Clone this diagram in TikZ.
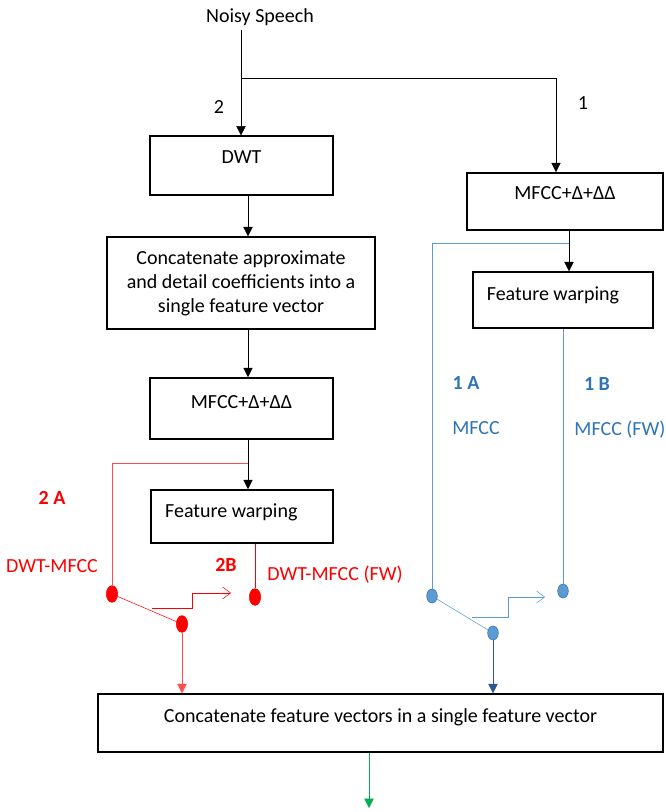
\documentclass[tikz,border=0pt]{standalone}
\usepackage{fontspec}
\setmainfont{Carlito}
\usetikzlibrary{positioning,shapes,arrows.meta,calc}
\definecolor{Red}{rgb}{1,0,0}
\definecolor{Blue}{HTML}{2E75B6}
\definecolor{lineblue}{HTML}{5B9BD5}
\definecolor{dotedge}{HTML}{41719C}
\definecolor{darkblue}{HTML}{2F5597}
\definecolor{Green}{HTML}{00B050}
\tikzstyle{blk}=[%
      rectangle, draw=black, line width=1.1pt, fill=none,
      align=center, inner sep=4pt
]
\tikzstyle{rdot}=[%
      ellipse, draw=Red, fill=Red, minimum width=8.5pt, minimum height=12.5pt, inner sep=0pt
]
\tikzstyle{bdot}=[%
      ellipse, draw=dotedge, fill=lineblue, minimum width=8pt, minimum height=10.5pt, inner sep=0pt
]
\tikzstyle{lbl}=[font=\fontsize{15pt}{18pt}\selectfont\bfseries]
\begin{document}
\begin{tikzpicture}[x=0.75pt, y=-0.75pt,
    font=\fontsize{15pt}{18pt}\selectfont,
    ->,
    >={Triangle[length=7pt,width=7pt]}
  ]
    \useasboundingbox (0,0) rectangle (665,812);

    % left column
    \node (speech) at (260,17) {Noisy Speech};
    \node[blk, minimum width=137pt, minimum height=44pt, text depth=12pt] (dwt) at (241.5,165.5) {DWT};
    \node[blk, minimum width=201pt, minimum height=69pt] (concat) at (241,283)
        {Concatenate approximate\\and detail coefficients into a\\single feature vector};
    \node[blk, minimum width=137pt, minimum height=46pt, text depth=10pt] (mfccL) at (241.5,408.5) {MFCC+Δ+ΔΔ};
    \node[blk, minimum width=136.5pt, minimum height=40pt, text depth=8.5pt] (fwL) at (242,516.5)
        {Feature warping\hspace*{16pt}};

    % right column
    \node[blk, minimum width=147pt, minimum height=43pt, text depth=13pt] (mfccR) at (565,201.5) {MFCC+Δ+ΔΔ};
    \node[blk, minimum width=135pt, minimum height=42pt, text depth=9.5pt] (fwR) at (563,300)
        {Feature warping\hspace*{15pt}};

    % final block
    \node[blk, minimum width=424pt, minimum height=43.5pt, text depth=11pt] (final) at (380.5,723)
        {Concatenate feature vectors in a single feature vector};

    % switches
    \node[rdot] (dot2A) at (112,594) {};
    \node[rdot] (dot2S) at (182,624) {};
    \node[rdot] (dot2B) at (255,597) {};
    \node[bdot] (dot1A) at (432,596) {};
    \node[bdot] (dot1S) at (493,633) {};
    \node[bdot] (dot1B) at (563,591) {};

    \coordinate (split) at (241,78);
    \coordinate (colL) at (248,0);
    \coordinate (colR) at (556,0);
    \coordinate (colFR) at (569,0);
    \coordinate (tapL) at (248,463);
    \coordinate (tapR) at (569,243);
    \coordinate (sw2) at (152,608);
    \coordinate (sw1) at (472,617);
    \coordinate (out) at (369,808);

    % labels
    \node (n2) at (219,107) {2};
    \node (n1) at (583,103) {1};
    \node[lbl, Red] (l2A) at (52,498) {2 A};
    \node[Red] (t2A) at (52,566) {DWT-MFCC};
    \node[lbl, Red] (l2B) at (226,565) {2B};
    \node[Red] (t2B) at (335,575) {DWT-MFCC (FW)};
    \node[lbl, Blue] (l1A) at (466,383) {1 A};
    \node[Blue] (t1A) at (476,428) {MFCC};
    \node[lbl, Blue] (l1B) at (597,384) {1 B};
    \node[Blue] (t1B) at (620,430) {MFCC (FW)};

    % black flow
    \draw (speech.south -| split) -- (dwt.north -| split);
    \draw (split) -| (mfccR.north -| colR);
    \draw (dwt.south -| colL) -- (concat.north -| colL);
    \draw (concat.south -| colL) -- (mfccL.north -| colL);
    \draw (mfccL.south -| colL) -- (fwL.north -| colL);
    \draw (mfccR.south -| colFR) -- (fwR.north -| colFR);

    % branch 2 (red)
    \draw[-, Red!70] (tapL) -| (dot2A.north);
    \draw[-, Red] (fwL.south -| dot2B) -- (dot2B.north);
    \draw[-, Red] (dot2A) -- (dot2S);
    \draw[Red, -{Straight Barb[length=6pt,width=9pt]}] (sw2) -- ++(40,0) |- ++(39,-15);
    \draw[Red!70] (dot2S.south) -- (dot2S |- final.north);

    % branch 1 (blue)
    \draw[-, lineblue] (tapR) -| (dot1A.north);
    \draw[-, lineblue] (fwR.south -| dot1B) -- (dot1B.north);
    \draw[-, lineblue] (dot1A) -- (dot1S);
    \draw[lineblue, -{Straight Barb[length=6pt,width=9pt]}] (sw1) -- ++(36,0) |- ++(37,-20);
    \draw[darkblue] (dot1S.south) -- (dot1S |- final.north);

    % output
    \draw[Green] (final.south -| out) -- (out);
  \end{tikzpicture}
\end{document}
